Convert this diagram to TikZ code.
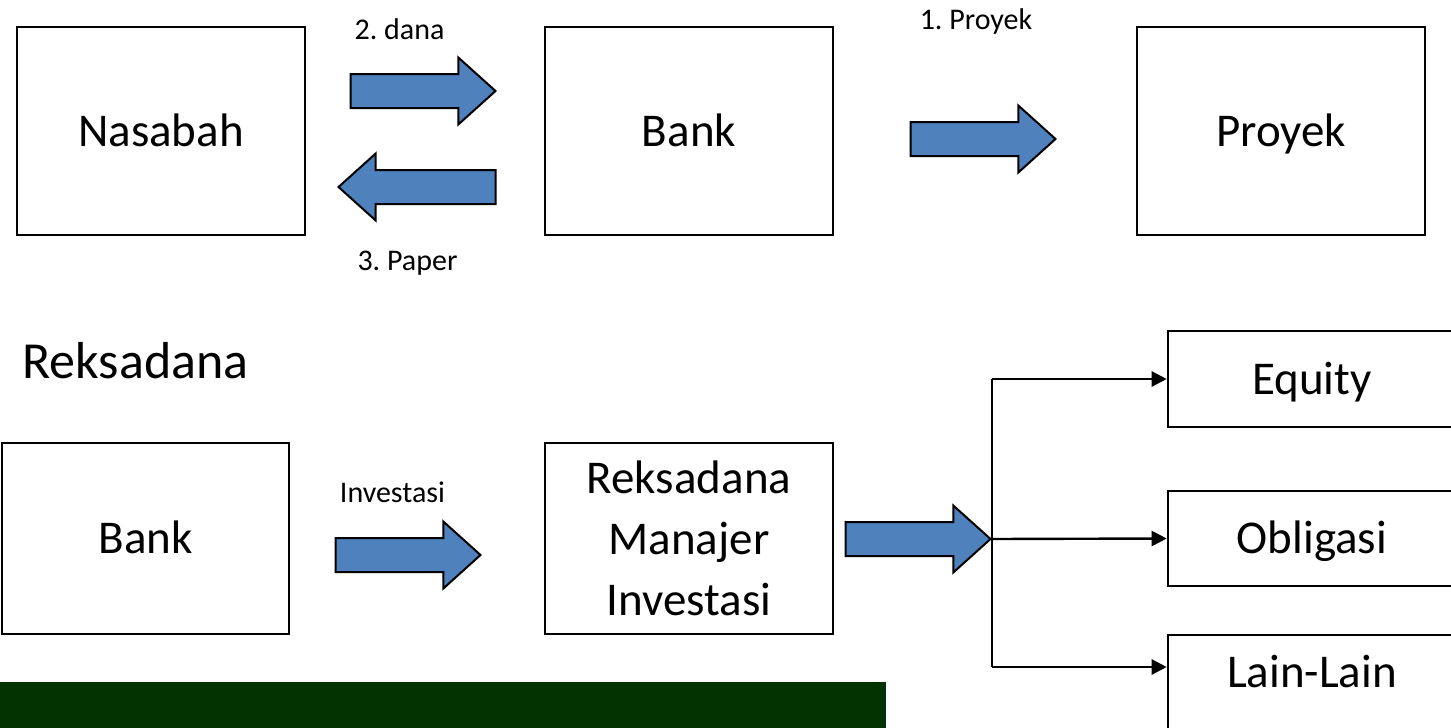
\documentclass[tikz,border=0pt]{standalone}
\usepackage{fontspec}
\setmainfont{Carlito}
\frenchspacing
\usetikzlibrary{shapes.arrows,arrows.meta}
\definecolor{arrowblue}{HTML}{4F81BD}
\definecolor{bargreen}{HTML}{033300}
\tikzset{
  box/.style={draw, line width=2.6pt, minimum width=288pt, inner sep=0pt,
    font=\fontsize{47}{61}\selectfont},
  onerow/.style={text height=30pt, text depth=0pt},
  blockarr/.style={single arrow, draw, fill=arrowblue, line width=2pt,
    inner sep=16pt, single arrow head extend=16.5pt,
    single arrow tip angle=84, minimum height=145pt, anchor=tip},
  lbl/.style={inner sep=0pt, font=\fontsize{30}{36}\selectfont,
    text height=19pt, text depth=0pt},
  branch/.style={line width=2.4pt, -{Triangle[length=15pt,width=15pt]}}
}

\begin{document}
\begin{tikzpicture}[x=1pt,y=-1pt]
\useasboundingbox (0,0) rectangle (1451,728);

% top row
\node[box,onerow,minimum height=208pt] (nasabah) at (161,131) {Nasabah};
\node[box,onerow,minimum height=208pt] (bank) at (689,131) {Bank};
\node[box,onerow,minimum height=208pt] (proyek) at (1281,131) {Proyek};
\node[blockarr] (dana) at (497,91) {};
\node[blockarr,shape border rotate=180,minimum height=157pt] (paper) at (337,187) {};
\node[blockarr] (kep) at (1057,139) {};
\node[lbl] (danalbl) at (399.5,29.5) {2. dana};
\node[lbl] (paperlbl) at (407.5,261) {3. Paper};
\node[lbl] (proyeklbl) at (976,20) {1. Proyek};

% reksadana
\node[inner sep=0pt,font=\fontsize{52}{60}\selectfont,text height=33pt,text depth=0pt]
  (judul) at (135.5,361.5) {Reksadana};
\node[box,onerow,minimum width=287pt,minimum height=191pt] (bank2) at (145.5,538.5) {Bank};
\node[box,minimum height=191pt,align=center] (mi) at (689,538.5)
  {Reksadana\\Manajer\\Investasi};
\node[blockarr] (inv) at (482,555) {};
\node[lbl] (invlbl) at (392.5,492.5) {Investasi};
\node[blockarr] (keluar) at (992,539) {};
\coordinate (split) at (keluar.tip);

\node[box,onerow,minimum height=96pt] (equity) at (1312,379) {Equity};
\node[box,onerow,minimum height=95pt] (obligasi) at (1312,538.5) {Obligasi};
\node[box,text height=30pt,text depth=22pt,minimum height=96pt] (lain) at (1312,683) {Lain-Lain};

\draw[line width=2.4pt] (split) -- (split |- equity.west);
\draw[line width=2.4pt] (split) -- ([yshift=16pt]split |- lain.west);
\draw[branch] (split |- equity.west) -- (equity.west);
\draw[branch] (split) -- (obligasi.west);
\draw[branch] ([yshift=16pt]split |- lain.west) -- ([yshift=16pt]lain.west);

\fill[bargreen] (0,682) rectangle (886,728);
\end{tikzpicture}
\end{document}
